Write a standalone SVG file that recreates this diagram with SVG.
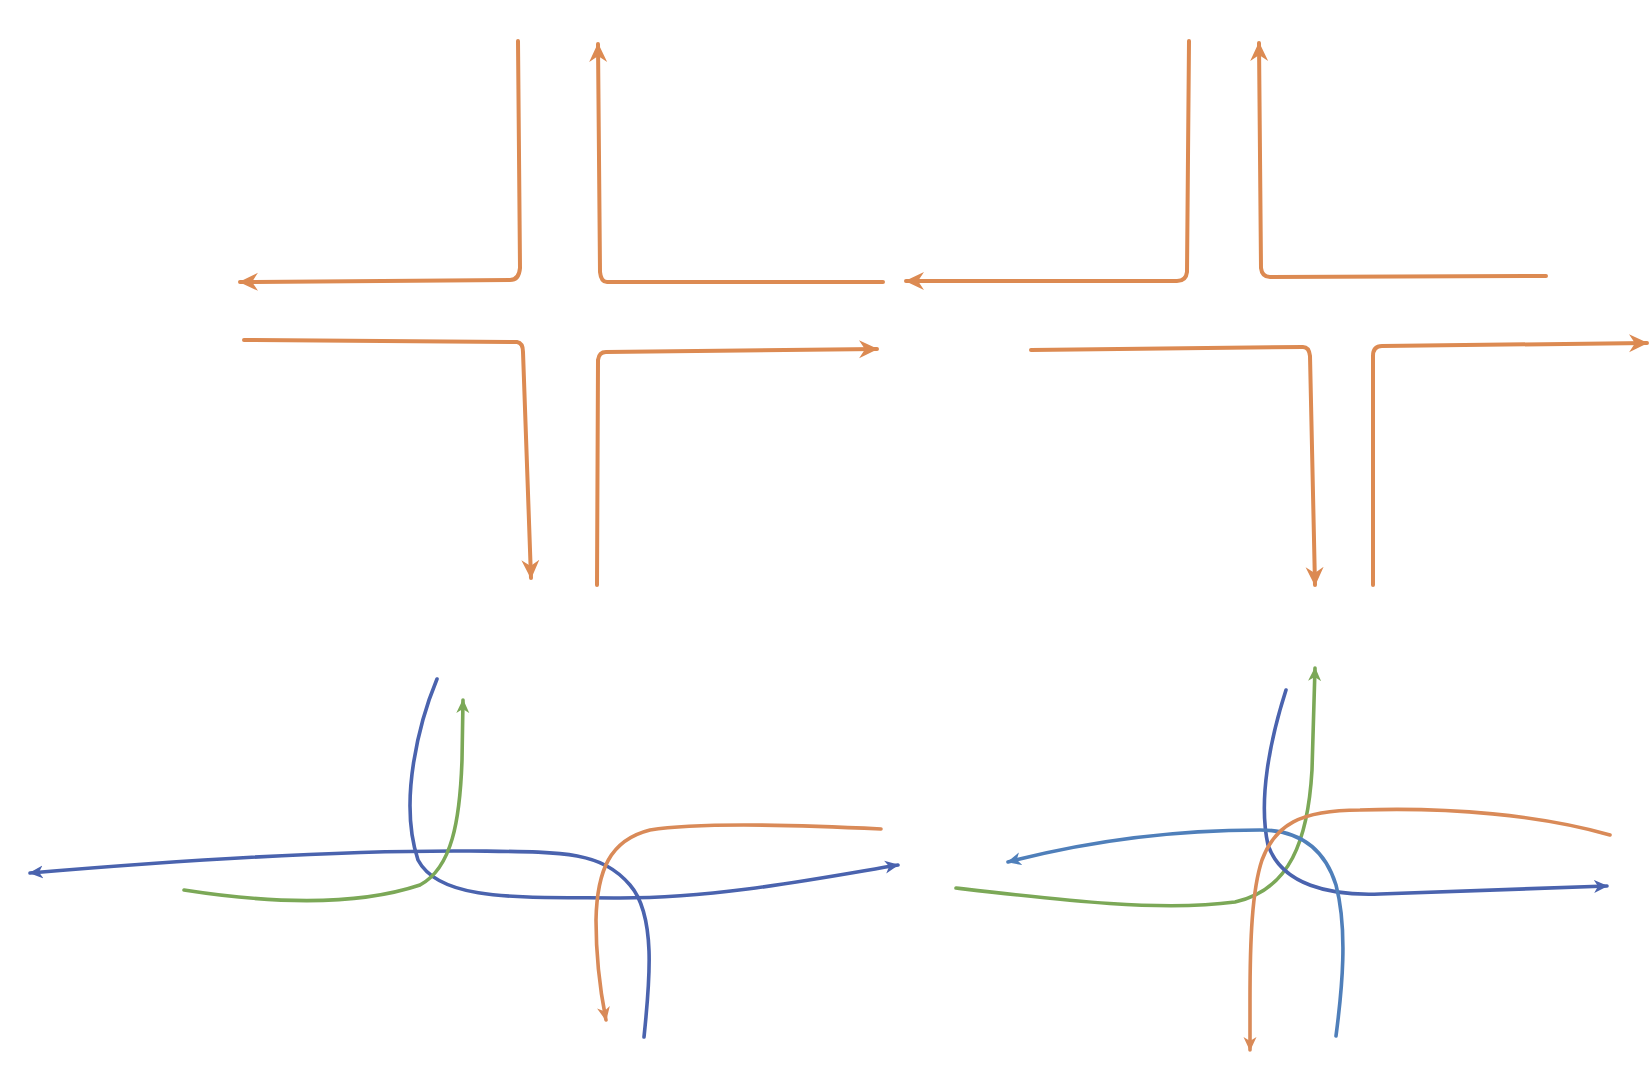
<svg xmlns="http://www.w3.org/2000/svg" width="1650" height="1065" viewBox="0 0 1650 1065">
<style>
.o{fill:none;stroke:#DC8A52;stroke-width:4;stroke-linecap:round;stroke-linejoin:round}
.ob{fill:none;stroke:#D98A58;stroke-width:3.6;stroke-linecap:round}
.b{fill:none;stroke:#4A63AE;stroke-width:3.6;stroke-linecap:round}
.b2{fill:none;stroke:#4F7FBA;stroke-width:3.6;stroke-linecap:round}
.g{fill:none;stroke:#7BA857;stroke-width:3.6;stroke-linecap:round}
</style>
<defs>
<marker id="ao" markerUnits="userSpaceOnUse" viewBox="0 0 20 20" refX="18" refY="10" markerWidth="20" markerHeight="20" orient="auto"><path d="M0,1 L19,10 L0,19 L6,10 Z" fill="#DC8A52"/></marker>
<marker id="aos" markerUnits="userSpaceOnUse" viewBox="0 0 15 15" refX="13" refY="7.5" markerWidth="15" markerHeight="15" orient="auto"><path d="M0,1 L14,7.5 L0,14 L4,7.5 Z" fill="#D98A58"/></marker>
<marker id="ab" markerUnits="userSpaceOnUse" viewBox="0 0 15 15" refX="13" refY="7.5" markerWidth="15" markerHeight="15" orient="auto"><path d="M0,1 L14,7.5 L0,14 L4,7.5 Z" fill="#4A63AE"/></marker>
<marker id="ab2" markerUnits="userSpaceOnUse" viewBox="0 0 15 15" refX="13" refY="7.5" markerWidth="15" markerHeight="15" orient="auto"><path d="M0,1 L14,7.5 L0,14 L4,7.5 Z" fill="#4F7FBA"/></marker>
<marker id="ag" markerUnits="userSpaceOnUse" viewBox="0 0 15 15" refX="13" refY="7.5" markerWidth="15" markerHeight="15" orient="auto"><path d="M0,1 L14,7.5 L0,14 L4,7.5 Z" fill="#7BA857"/></marker>
</defs>
<rect width="1650" height="1065" fill="#ffffff"/>
<g id="connectors">
<g id="cross-left">
<path class="o" d="M518,41 L520,268 Q519,280 510,280 L240,282" marker-end="url(#ao)"/>
<path class="o" d="M883,282 L607,282 Q601,282 600,272 L598,44" marker-end="url(#ao)"/>
<path class="o" d="M244,340 L517,342 Q523,343 523,352 L531,578" marker-end="url(#ao)"/>
<path class="o" d="M597,585 L598,360 Q599,352 606,352 L877,349" marker-end="url(#ao)"/>
</g>
<g id="cross-right">
<path class="o" d="M1189,41 L1187,272 Q1186,281 1177,281 L906,281" marker-end="url(#ao)"/>
<path class="o" d="M1546,276 L1270,277 Q1262,277 1261,268 L1259,43" marker-end="url(#ao)"/>
<path class="o" d="M1031,350 L1303,347 Q1309,347 1310,356 L1315,585" marker-end="url(#ao)"/>
<path class="o" d="M1373,585 L1373,356 Q1373,346 1382,346 L1647,343" marker-end="url(#ao)"/>
</g>
<g id="knot-left">
<path class="b" d="M644,1037 C650,980 656,915 630,885 C600,850 560,852 470,851 C330,850 160,862 30,873" marker-end="url(#ab)"/>
<path class="b" d="M437,679 C420,720 398,800 418,860 C440,902 520,897 620,898 C720,898 820,878 898,865" marker-end="url(#ab)"/>
<path class="g" d="M184,890 C280,905 360,905 420,885 C452,868 460,820 462,760 L463,700" marker-end="url(#ag)"/>
<path class="ob" d="M881,829 C800,825 700,822 650,830 C610,840 597,870 596,920 C596,960 600,990 606,1020" marker-end="url(#aos)"/>
</g>
<g id="knot-right">
<path class="g" d="M956,888 C1060,900 1160,912 1235,902 C1290,890 1308,840 1312,770 L1315,668" marker-end="url(#ag)"/>
<path class="b" d="M1286,690 C1270,740 1258,800 1268,845 C1282,885 1330,896 1380,894 C1450,892 1520,889 1607,886" marker-end="url(#ab)"/>
<path class="b2" d="M1336,1036 C1342,990 1348,930 1336,885 C1325,850 1300,830 1260,830 C1180,830 1100,838 1008,862" marker-end="url(#ab2)"/>
<path class="ob" d="M1610,835 C1540,815 1450,807 1360,810 C1300,810 1275,825 1262,860 C1252,890 1250,940 1250,1000 L1250,1050" marker-end="url(#aos)"/>
</g>
</g>
</svg>
